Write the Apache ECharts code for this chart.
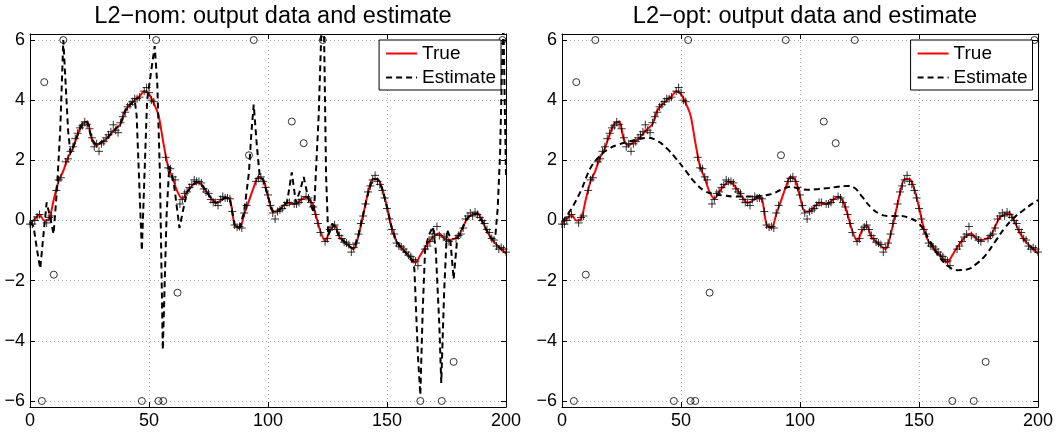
<!DOCTYPE html>
<html><head><meta charset="utf-8">
<script src="https://cdn.jsdelivr.net/npm/echarts@6/dist/echarts.min.js"></script>
<style>html,body{margin:0;padding:0;background:#fff}#c{width:1058px;height:439px}</style>
</head><body><div id="c"></div>
<script>
// True signal sampled at x = 0, 2, 4, ..., 200
const trueY = [-0.1,0.05,0.2,0.0,0.05,0.7,1.3,1.65,2.1,2.4,
  2.85,3.22,3.28,2.7,2.5,2.6,2.7,2.88,3.05,3.2,
  3.65,3.85,4.0,4.12,4.3,4.2,3.9,3.5,2.6,1.8,
  1.4,0.95,0.72,0.95,1.15,1.28,1.2,0.98,0.75,0.58,
  0.65,0.76,0.7,-0.15,-0.25,0.2,0.65,1.1,1.45,1.35,
  0.8,0.3,0.3,0.45,0.58,0.55,0.57,0.7,0.78,0.65,
  0.2,-0.35,-0.68,-0.35,-0.16,-0.55,-0.7,-0.85,-0.95,-0.5,
  0.2,0.9,1.38,1.38,1.05,0.45,-0.25,-0.7,-0.9,-1.08,
  -1.25,-1.4,-1.15,-0.9,-0.68,-0.5,-0.43,-0.6,-0.65,-0.62,
  -0.52,-0.2,0.1,0.2,0.23,-0.02,-0.35,-0.62,-0.8,-0.95,-1.1];
// Measured outputs ('+') at x = 1, 3, 5, ..., 199 (null where an outlier replaces it)
const measOddY = [-0.12,0.12,null,-0.08,0.15,1.0,1.42,1.95,2.3,2.72,
  3.08,3.28,3.05,2.45,2.3,2.62,2.85,3.18,2.92,3.45,
  3.78,3.95,4.05,null,4.42,4.0,null,null,2.1,1.72,
  1.35,0.55,0.9,1.1,1.35,1.3,1.05,0.9,0.6,0.5,
  0.8,0.75,0.3,-0.22,-0.25,0.5,null,1.3,1.45,1.1,
  0.5,0.05,0.35,0.5,0.6,0.55,0.6,null,0.75,0.45,
  -0.1,null,-0.6,-0.22,-0.3,-0.6,-0.75,-1.05,-0.75,-0.1,
  0.55,1.15,1.5,1.2,0.75,0.05,-0.45,-0.85,-0.95,-1.15,
  -1.3,-1.5,null,-0.85,-0.55,-0.2,null,-0.65,null,-0.6,
  -0.45,0.05,0.25,0.28,0.1,-0.1,-0.4,-0.65,-0.95,-0.95];
// Measured outputs ('+') at x = 0, 2, 4, ..., 200
const measEvenY = [-0.12,0.0,0.2,null,0.1,null,1.35,null,2.05,2.45,
  2.9,3.15,3.2,2.75,2.55,2.55,2.75,2.95,3.0,3.25,
  3.6,3.85,4.05,4.1,4.3,4.25,3.95,null,null,1.75,
  1.45,null,0.7,0.95,1.2,1.3,1.25,0.95,0.7,0.6,
  0.7,0.75,0.72,-0.15,-0.2,0.25,null,null,1.4,1.3,
  0.85,0.25,0.3,0.4,0.6,null,0.55,0.7,0.8,0.6,
  0.2,-0.4,-0.7,-0.3,-0.15,-0.5,-0.72,-0.8,-0.9,-0.45,
  0.15,0.95,1.35,1.3,1.0,0.4,-0.3,-0.75,-0.88,-1.05,
  -1.2,-1.35,null,-0.95,-0.7,-0.45,-0.5,-0.55,-0.7,null,
  -0.5,-0.25,0.15,0.15,0.2,0.0,-0.3,-0.6,-0.85,-0.9,-1.05];
// Outliers ('o')
const outX = [5,6,10,14,47,53,54,56,62,92,94,110,115,123,164,173,178,198.5];
const outY = [-6,4.6,-1.8,6,-6,6,-6,-6,-2.4,2.17,6,3.29,2.57,6,-6,-6,-4.7,6];
// L2-nom estimate
const nomX = [0,1.5,3,4.3,5.5,7,8.5,9.9,11.3,12.7,14,15,16,17,18,20,22,24,26,28,30,32,34,36,38,40,42,44,44.8,47,49.2,52.4,53.5,54.6,55.8,57.4,58.5,60.5,62.8,64.2,66,68,70,72,74,76,78,80,82,84,86,88,90,92,93,94,95.3,96.5,98,100,102,104,106,108,110,111.7,113.5,115,117,119.3,121.3,122.5,123.5,124.4,125.3,127,128.5,130,132,134,136,138,140,142,144,146,148,150,152,154,156,158,160,161.5,163,164,165,166,167.5,169.3,170.5,172,172.8,174,175.2,176.5,178,179.5,181,182,184,186,188,190,192,194,195.5,196.5,197.5,198.3,198.9,199.3,200];
const nomY = [-0.05,-0.2,-1.0,-1.6,-0.6,0.6,0.1,-0.45,1.0,3.0,6.0,4.5,3.0,2.25,2.4,2.85,3.22,3.28,2.7,2.5,2.6,2.7,2.88,3.05,3.2,3.65,3.85,4.0,3.5,-1.0,4.0,5.8,4.5,1.5,-4.3,0.2,1.8,1.2,-0.25,0.3,0.95,1.15,1.28,1.2,0.98,0.75,0.58,0.65,0.76,0.7,-0.15,-0.25,0.3,1.6,2.9,3.85,2.5,1.5,1.35,0.8,0.3,0.3,0.45,0.6,1.6,0.6,1.0,1.45,0.7,0.25,3.5,6.5,6.5,1.5,-0.5,-0.1,-0.25,-0.55,-0.7,-0.85,-0.95,-0.5,0.2,0.9,1.38,1.38,1.05,0.45,-0.25,-0.7,-0.9,-1.08,-1.25,-1.6,-4.5,-5.8,-3.0,-1.0,-0.5,-0.2,-1.0,-3.5,-5.4,-2.4,-0.3,-0.55,-1.95,-0.6,-0.4,-0.2,0.1,0.2,0.23,-0.02,-0.35,-0.62,-0.55,0.4,2.2,5.0,6.6,6.6,1.5];
// L2-opt estimate
const optX = [0,4,8,12,16,20,24,28,32,36,40,44,48,52,56,60,64,68,72,76,80,84,88,92,96,100,104,108,112,116,120,123,126,130,134,138,142,146,150,154,158,162,166,170,174,178,182,186,190,194,198,200];
const optY = [-0.05,0.4,1.0,1.75,2.15,2.4,2.53,2.62,2.7,2.75,2.65,2.4,2.05,1.65,1.25,0.98,0.88,0.83,0.8,0.8,0.8,0.82,0.88,1.02,1.12,1.05,1.02,1.05,1.08,1.12,1.15,1.08,0.8,0.42,0.2,0.15,0.15,0.08,-0.1,-0.6,-1.15,-1.5,-1.65,-1.63,-1.45,-1.15,-0.7,-0.25,0.1,0.35,0.58,0.68];
const titles = ['L2\u2212nom: output data and estimate', 'L2\u2212opt: output data and estimate'];

const FONT = '"Liberation Sans", Arial, Helvetica, sans-serif';
const trueData = trueY.map((v, i) => [i * 2, v]);
const measData = measOddY.map((v, i) => [i * 2 + 1, v])
  .concat(measEvenY.map((v, i) => [i * 2, v]))
  .filter(d => d[1] !== null);
const outData = outX.map((x, i) => [x, outY[i]]);
const nomData = nomX.map((x, i) => [x, nomY[i]]);
const optData = optX.map((x, i) => [x, optY[i]]);
const fmt = v => String(v).replace('-', '\u2212');

const lefts = [30, 562];
const grids = lefts.map(l => ({left: l, top: 34, width: 476, height: 373, containLabel: false}));
const xAxes = [], yAxes = [], series = [], legends = [], titleArr = [];
[0, 1].forEach(g => {
  const base = {type: 'value', gridIndex: g, min: 0, max: 200, interval: 50,
    axisLine: {show: true, onZero: false, lineStyle: {color: '#000', width: 1}},
    axisTick: {show: true, inside: true, length: 5, lineStyle: {color: '#000'}}};
  xAxes.push(Object.assign({}, base, {position: 'bottom',
    axisLabel: {show: true, margin: 5, color: '#000', fontSize: 18, fontFamily: FONT, formatter: fmt},
    splitLine: {show: true, lineStyle: {color: '#aaa', type: [1, 3], width: 1}}}));
  xAxes.push(Object.assign({}, base, {position: 'top', axisLabel: {show: false}, splitLine: {show: false}}));
  const ybase = {type: 'value', gridIndex: g, min: -6.2, max: 6.2, splitNumber: 6,
    axisLine: {show: true, onZero: false, lineStyle: {color: '#000', width: 1}},
    axisTick: {show: true, inside: true, length: 5, lineStyle: {color: '#000'}}};
  yAxes.push(Object.assign({}, ybase, {position: 'left',
    axisLabel: {show: true, margin: 5, color: '#000', fontSize: 18, fontFamily: FONT, formatter: fmt,
      showMinLabel: false, showMaxLabel: false},
    splitLine: {show: true, lineStyle: {color: '#aaa', type: [1, 3], width: 1}}}));
  yAxes.push(Object.assign({}, ybase, {position: 'right', axisLabel: {show: false}, splitLine: {show: false}}));
  const xi = g * 2, yi = g * 2;
  series.push({name: 'True', type: 'line', xAxisIndex: xi, yAxisIndex: yi, data: trueData,
    symbol: 'none', smooth: 0.3, lineStyle: {color: '#ff0000', width: 2}, itemStyle: {color: '#ff0000'}, z: 2});
  series.push({name: 'meas', type: 'scatter', xAxisIndex: xi, yAxisIndex: yi, data: measData,
    symbol: 'path://M5,0L5,10M0,5L10,5', symbolSize: 8,
    itemStyle: {color: '#000', borderColor: '#000', borderWidth: 1}, z: 3, silent: true});
  series.push({name: 'outliers', type: 'scatter', xAxisIndex: xi, yAxisIndex: yi, data: outData,
    symbol: 'circle', symbolSize: 7,
    itemStyle: {color: 'rgba(0,0,0,0)', borderColor: '#000', borderWidth: 1}, z: 3, silent: true});
  series.push({name: 'Estimate', type: 'line', xAxisIndex: xi, yAxisIndex: yi, data: g === 0 ? nomData : optData,
    symbol: 'none', smooth: g === 0 ? false : 0.4,
    lineStyle: {color: '#000', width: 2, type: [6, 4]}, itemStyle: {color: '#000'}, z: 4});
  legends.push({data: ['True', 'Estimate'], orient: 'vertical',
    right: g === 0 ? 557 : 25.5, top: 40,
    backgroundColor: '#fff', borderColor: '#000', borderWidth: 1, borderRadius: 0,
    padding: [4, 5, 3, 6], itemWidth: 31, itemHeight: 14, itemGap: 5,
    selectedMode: false, itemStyle: {opacity: 0},
    textStyle: {fontSize: 19, color: '#000', fontFamily: FONT}});
  titleArr.push({text: titles[g], left: lefts[g] + 238, top: 0, textAlign: 'center',
    textStyle: {fontSize: 23.5, fontWeight: 'normal', color: '#000', fontFamily: FONT}});
});

const chart = echarts.init(document.getElementById('c'), null, {renderer: 'canvas'});
chart.setOption({
  animation: false,
  backgroundColor: '#fff',
  title: titleArr,
  legend: legends,
  grid: grids,
  xAxis: xAxes,
  yAxis: yAxes,
  series: series
});
</script></body></html>
